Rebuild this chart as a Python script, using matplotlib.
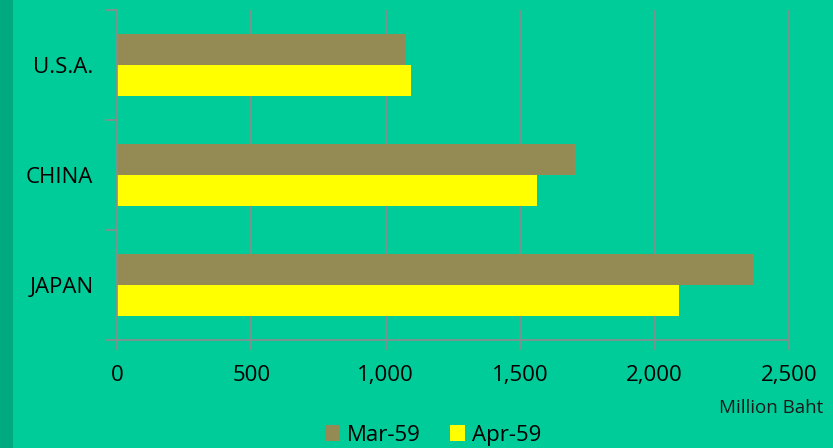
import numpy as np
import matplotlib.pyplot as plt
from matplotlib.patches import Rectangle

# vrijednosti ocitane sa slike (milion bahta)
countries = ["JAPAN", "CHINA", "U.S.A."]
mar_59 = [2366, 1703, 1073]
apr_59 = [2090, 1561, 1095]
series_names = ["Mar-59", "Apr-59"]
x_ticks = [0, 500, 1000, 1500, 2000, 2500]

bg = "#00CC99"
grid_col = "#8C8C8C"

plt.rcParams['font.family'] = ['Open Sans', 'DejaVu Sans']

fig = plt.figure(figsize=(8.33, 4.48), dpi=100, facecolor=bg)
# tamnija traka na lijevoj strani
fig.patches.append(Rectangle((0, 0), 13 / 833, 1, transform=fig.transFigure,
                             facecolor="#00AA80", edgecolor="none", zorder=0))

ax = fig.add_axes([117 / 833, 1 - 340 / 448, (789 - 117) / 833, 330 / 448])
ax.set_facecolor(bg)

y = np.arange(len(countries))
h = 0.28
ax.barh(y + h / 2, mar_59, height=h, color="#948A54", label=series_names[0], zorder=3)
ax.barh(y - h / 2, apr_59, height=h, color="#FFFF00", label=series_names[1], zorder=3)

ax.set_xlim(0, 2500)
ax.set_ylim(-0.5, 2.5)
ax.set_xticks(x_ticks)
ax.set_xticklabels(["{:,}".format(v) for v in x_ticks], fontsize=16)
ax.set_yticks(y)
ax.set_yticklabels(countries, fontsize=16)
ax.set_yticks([-0.5, 0.5, 1.5, 2.5], minor=True)
ax.tick_params(axis="y", which="major", length=0, pad=17)
ax.tick_params(axis="y", which="minor", length=8, color=grid_col, width=1.2)
ax.tick_params(axis="x", length=7, color=grid_col, width=1.2, pad=11)

ax.grid(axis="x", color=grid_col, linewidth=1.2, zorder=0)
for s in ["top", "right"]:
    ax.spines[s].set_visible(False)
for s in ["left", "bottom"]:
    ax.spines[s].set_color(grid_col)
    ax.spines[s].set_linewidth(1.2)
    ax.spines[s].set_zorder(4)

fig.text(823 / 833, 1 - 408 / 448, "Million Baht", ha="right", va="center",
         fontsize=13.5, color="#1a1a1a")

fig.legend(loc="center", bbox_to_anchor=(433 / 833, 1 - 435 / 448), ncol=2,
           frameon=False, fontsize=16, handlelength=0.7, handleheight=0.7,
           handletextpad=0.3, columnspacing=1.3)

fig.savefig("out.png", dpi=100, facecolor=bg)
